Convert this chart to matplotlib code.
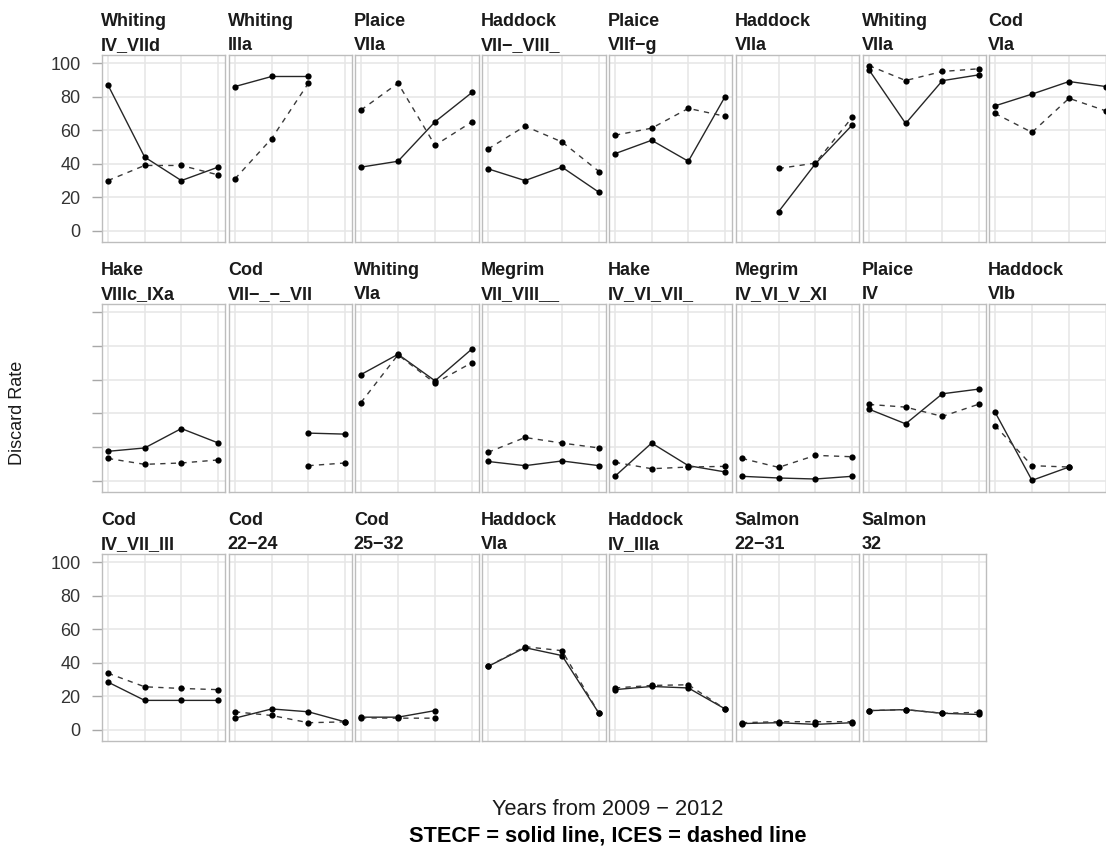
import numpy as np
import matplotlib
matplotlib.use('Agg')
import matplotlib.pyplot as plt
from matplotlib.axes import Axes

nan = np.nan

years = [0, 1, 2, 3]

species = ['Whiting', 'Whiting', 'Plaice', 'Haddock', 'Plaice', 'Haddock', 'Whiting', 'Cod',
           'Hake', 'Cod', 'Whiting', 'Megrim', 'Hake', 'Megrim', 'Plaice', 'Haddock',
           'Cod', 'Cod', 'Cod', 'Haddock', 'Haddock', 'Salmon', 'Salmon']
areas = ['IV_VIId', 'IIIa', 'VIIa', 'VII\u2212_VIII_', 'VIIf\u2212g', 'VIIa', 'VIIa', 'VIa',
         'VIIIc_IXa', 'VII\u2212_\u2212_VII', 'VIa', 'VII_VIII__', 'IV_VI_VII_', 'IV_VI_V_XI', 'IV', 'VIb',
         'IV_VII_III', '22\u221224', '25\u221232', 'VIa', 'IV_IIIa', '22\u221231', '32']

# discard rate (%) per stock, 2009..2012
stecf = [
    [87, 44, 30, 38],
    [86, 92, 92, nan],
    [38, 41.5, 65, 82.5],
    [37, 30, 38, 23],
    [46, 54, 41.5, 80],
    [nan, 11.5, 40, 63],
    [96, 64, 89.5, 93],
    [74.5, 81.5, 89, 86],
    [17.5, 19.5, 31, 22.5],
    [nan, nan, 28.3, 27.7],
    [63, 75, 59.3, 78.2],
    [11.5, 9, 11.8, 9],
    [2.7, 22.4, 9, 5.3],
    [2.7, 1.7, 1.1, 2.7],
    [42.5, 33.8, 51.6, 54.4],
    [40.8, 0.3, 8.2, nan],
    [28.5, 17.6, 17.6, 17.6],
    [7, 12.5, 10.8, 4.8],
    [7.6, 7.6, 11.5, nan],
    [37.8, 49, 44.3, 9.8],
    [24, 25.9, 25, 12.5],
    [3.8, 4.3, 3.3, 4.3],
    [11.5, 12.1, 9.9, 9.2],
]
ices = [
    [30, 39, 39, 33.4],
    [31, 55, 88, nan],
    [72, 88, 51, 65],
    [48.8, 62.4, 53, 35.4],
    [57, 61.2, 73, 68.3],
    [nan, 37.2, 40.4, 67.6],
    [98.5, 89.6, 95, 96.6],
    [70, 58.7, 79, 71.5],
    [13.3, 9.8, 10.6, 12.4],
    [nan, nan, 9, 10.6],
    [46.4, 74.7, 57.9, 70.1],
    [16.9, 25.7, 22.4, 19.5],
    [11, 7.2, 8.2, 8.6],
    [13.3, 8, 15.1, 14.3],
    [45.3, 43.7, 38.2, 45.5],
    [32.8, 9, 8.2, nan],
    [33.8, 25.7, 24.7, 24],
    [10.8, 8.6, 4.3, 4.8],
    [7.2, 7, 7, nan],
    [37.8, 49.6, 47.2, 9.8],
    [25, 26.5, 26.9, 12.5],
    [4.3, 4.9, 4.9, 4.9],
    [11.5, 12.1, 9.9, 10.5],
]
y_ticks = [0, 20, 40, 60, 80, 100]

W, H = 1106, 850
N_COL = 8
LEFT0, PITCH, PANEL_W, PANEL_H = 100.7, 126.8, 124.6, 188.5
ROW_TOPS = [53.5, 303.0, 552.6]

plt.rcParams['font.family'] = ['Liberation Sans', 'DejaVu Sans']


def panel(fig, row: int, col: int) -> Axes:
    # snap panel edges to whole pixels so neighbouring borders stay crisp
    left = round(LEFT0 + col * PITCH) + 0.5
    right = round(LEFT0 + col * PITCH + PANEL_W) - 0.5
    top = round(ROW_TOPS[row]) + 0.5
    bottom = round(ROW_TOPS[row] + PANEL_H) - 0.5
    return fig.add_axes([left / W, 1 - bottom / H, (right - left) / W, (bottom - top) / H])


def style_panel(ax: Axes, row: int, col: int):
    ax.set_xlim(-0.175, 3.175)
    ax.set_ylim(-6.3, 105.1)
    ax.set_xticks(years)
    ax.set_yticks(y_ticks)
    ax.grid(color='#e6e6e6', linewidth=1.1)
    ax.set_axisbelow(True)
    for s in ax.spines.values():
        s.set_color('#bdbdbd')
        s.set_linewidth(1.0)
    ax.tick_params(axis='x', length=0, labelbottom=False)
    if col == 0:
        ax.tick_params(axis='y', length=7.5, width=1.0, color='#a8a8a8', pad=7.5,
                       labelsize=13, labelcolor='#333333', labelleft=(row != 1))
    else:
        ax.tick_params(axis='y', length=0, labelleft=False)


def strip(ax: Axes, top_line: str, bottom_line: str):
    kw = dict(xycoords='axes fraction', textcoords='offset points', ha='left', va='baseline',
              fontsize=13, fontweight='bold', color='#1a1a1a', annotation_clip=False)
    ax.annotate(top_line, (0, 1), xytext=(-0.5, 20.4), **kw)
    ax.annotate(bottom_line, (0, 1), xytext=(-0.5, 2.9), **kw)


fig = plt.figure(figsize=(W / 100, H / 100), dpi=100)
fig.patch.set_facecolor('white')

for i, (sp, area) in enumerate(zip(species, areas)):
    row, col = divmod(i, N_COL)
    ax = panel(fig, row, col)
    style_panel(ax, row, col)
    strip(ax, sp, area)
    ax.plot(years, stecf[i], color='#262626', linewidth=1.0, marker='o', markersize=4.5,
            markerfacecolor='black', markeredgewidth=0, zorder=3)
    ax.plot(years, ices[i], color='#3a3a3a', linewidth=1.0, dashes=(3.8, 3.8), marker='o',
            markersize=4.5, markerfacecolor='black', markeredgewidth=0, zorder=3)

fig.text(18 / W, 1 - 413 / H, 'Discard Rate', rotation=90, ha='center', va='center',
         fontsize=13, color='#1a1a1a')
fig.text(608 / W, 1 - 815 / H, 'Years from 2009 \u2212 2012', ha='center', va='baseline',
         fontsize=15.7, color='#1a1a1a')
fig.text(608 / W, 1 - 841.7 / H, 'STECF = solid line, ICES = dashed line', ha='center',
         va='baseline', fontsize=15.7, fontweight='bold', color='black')

fig.savefig('out.png', dpi=100)
